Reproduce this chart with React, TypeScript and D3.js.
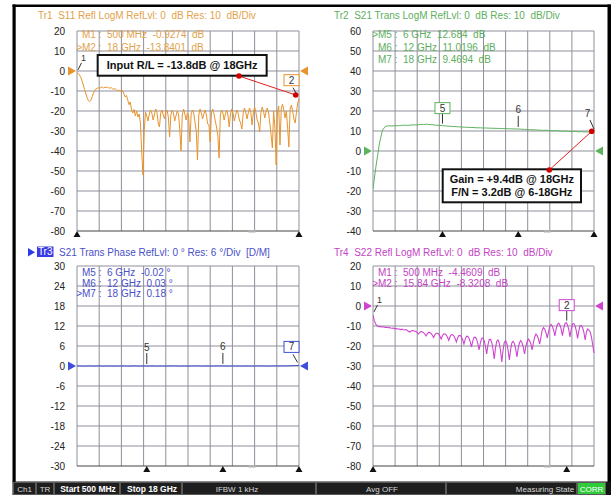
import React from 'react';
import * as d3 from 'd3';

const W = 614;
const H = 495;
const FONT = "'Liberation Sans', Arial, Helvetica, sans-serif";

// Sweep
const fStart = 0.5; // GHz
const fStop = 18; // GHz

// Tr1 S11 (dB), 0.5..18 GHz step 0.1 GHz
const s11 = [
  -0.9, -1.2, -2.0, -3.2, -5.0, -7.0, -9.2, -11.5, -13.4, -14.8,
  -15.3, -14.6, -12.8, -11.0, -9.8, -9.0, -8.6, -8.4, -8.6, -8.2,
  -8.0, -8.5, -8.1, -8.3, -8.0, -8.4, -8.6, -8.3, -8.9, -9.1,
  -8.8, -9.4, -9.8, -9.5, -10.2, -9.6, -9.9, -11.5, -13.0, -12.2,
  -14.5, -16.8, -15.5, -19.5, -21.0, -19.2, -22.5, -20.0, -23.0, -21.5,
  -26.0, -40.0, -52.0, -30.0, -20.5, -22.5, -25.0, -21.5, -19.5, -21.0,
  -24.5, -22.0, -19.0, -20.5, -26.0, -28.0, -21.0, -19.5, -22.0, -24.0,
  -20.5, -19.5, -23.0, -33.0, -22.0, -19.5, -21.0, -25.0, -22.5, -20.0,
  -21.5, -29.0, -40.0, -22.0, -19.0, -21.5, -24.5, -21.0, -22.5, -35.5,
  -21.5, -19.5, -21.0, -25.5, -30.0, -44.5, -22.0, -19.0, -21.0, -24.0,
  -21.5, -19.5, -22.0, -26.5, -27.0, -35.5, -21.0, -19.0, -21.5, -25.0,
  -28.0, -32.0, -43.5, -22.0, -19.5, -21.0, -24.5, -21.5, -19.5, -22.0,
  -28.0, -21.5, -19.0, -21.0, -25.0, -22.0, -19.5, -21.0, -24.5, -26.0,
  -29.0, -21.0, -18.5, -20.5, -24.0, -21.0, -18.5, -20.5, -27.0, -21.0,
  -18.0, -20.5, -24.5, -26.0, -30.5, -20.5, -18.0, -20.0, -23.5, -20.5,
  -18.5, -21.0, -26.0, -32.0, -38.5, -20.0, -28.0, -47.0, -21.0, -17.5,
  -37.0, -19.0, -16.5, -19.5, -23.5, -20.0, -28.0, -38.0, -19.0, -17.0,
  -20.0, -24.0, -26.0, -20.5, -16.0, -13.8,
];

// Tr2 S21 (dB), 0.5..18 GHz step 0.25 GHz
const s21 = [
  -19.0, -7.0, 3.5, 10.5, 12.4, 12.6, 12.5, 12.7, 12.6, 12.8,
  12.9, 12.8, 13.0, 13.1, 13.0, 13.3, 13.2, 13.4, 13.2, 13.1,
  12.9, 12.8, 12.7, 12.5, 12.4, 12.3, 12.2, 12.1, 12.0, 11.9,
  11.8, 11.8, 11.7, 11.6, 11.6, 11.5, 11.5, 11.4, 11.4, 11.3,
  11.3, 11.2, 11.2, 11.1, 11.1, 11.0, 11.0, 10.9, 10.8, 10.7,
  10.6, 10.6, 10.5, 10.4, 10.3, 10.4, 10.2, 10.1, 10.2, 10.0,
  9.9, 10.0, 9.8, 9.7, 9.9, 9.6, 9.7, 9.5, 9.6, 9.4,
  9.47,
];

// Tr3 S21 phase (deg), 0.5..18 GHz step 0.25 GHz
const phase = [
  0.0, 0.02, -0.05, 0.0, 0.03, -0.02, 0.0, 0.05, -0.03, 0.0,
  0.02, 0.0, -0.04, 0.01, 0.0, 0.03, -0.02, 0.0, 0.04, -0.01,
  0.0, 0.02, -0.02, 0.0, 0.03, -0.03, 0.01, 0.0, -0.02, 0.02,
  0.0, 0.04, -0.01, 0.0, 0.02, -0.03, 0.0, 0.01, 0.03, -0.02,
  0.0, 0.02, -0.01, 0.0, 0.03, 0.01, 0.03, 0.0, -0.02, 0.02,
  0.0, 0.01, -0.03, 0.0, 0.02, 0.0, -0.01, 0.03, 0.0, 0.02,
  -0.02, 0.0, 0.04, 0.01, 0.0, 0.05, 0.02, 0.08, 0.1, 0.14,
  0.18,
];

// Tr4 S22 (dB), 0.5..18 GHz step 0.1 GHz
const s22 = [
  -4.46, -7.2, -8.9, -9.8, -10.1, -10.3, -10.2, -10.5, -10.4, -10.6,
  -10.7, -10.6, -10.9, -10.8, -11.0, -11.1, -11.0, -11.3, -11.2, -11.5,
  -11.4, -11.6, -11.8, -11.6, -11.9, -12.0, -11.8, -12.1, -12.6, -13.0,
  -12.6, -12.3, -12.4,
  -12.6, -12.8, -13.3, -14.0, -13.2, -12.7,
  -13.0, -13.3, -14.0, -15.0, -13.9, -13.2,
  -13.3, -13.7, -14.6, -15.8, -14.4, -13.6,
  -13.6, -14.0, -15.1, -16.5, -14.9, -13.9,
  -14.0, -14.5, -15.6, -17.2, -15.4, -14.3,
  -14.4, -14.9, -16.2, -18.0, -16.0, -14.8,
  -14.8, -15.4, -16.9, -19.0, -16.7, -15.2,
  -15.2, -16.0, -17.9, -20.5, -17.6, -15.7,
  -15.6, -16.6, -18.8, -22.0, -18.5, -16.2,
  -16.0, -17.2, -20.0, -24.0, -19.6, -16.8,
  -16.6, -18.1, -21.5, -26.5, -21.0, -17.6,
  -17.0, -18.6, -22.5, -28.0, -22.0, -18.1,
  -17.4, -18.8, -22.2, -27.0, -21.7, -18.4,
  -17.6, -18.8, -21.5, -25.5, -21.2, -18.4,
  -17.3, -18.3, -20.6, -24.0, -20.3, -18.0,
  -16.5, -17.3, -19.0, -22.0, -18.5, -15.5,
  -14.0, -14.8, -16.5, -19.0, -15.5, -12.0,
  -10.8, -11.6, -13.4, -16.0, -12.8, -10.0,
  -9.2, -10.1, -12.0, -15.0, -11.6, -9.3,
  -8.6, -9.5, -11.6, -14.8, -11.3, -8.8,
  -8.3, -9.3, -11.7, -15.5, -11.5, -9.0,
  -8.8, -9.9, -12.4, -16.2, -12.3, -9.8,
  -9.8, -10.9, -13.2, -17.0, -13.0, -11.5,
  -12.0, -13.0, -15.5, -19.5, -23.5,
];

const fineFreqs = d3.range(s11.length).map((i) => fStart + i * 0.1);
const coarseFreqs = d3.range(s21.length).map((i) => fStart + i * 0.25);

// Tick labels
const ticksTr1 = [20, 10, 0, -10, -20, -30, -40, -50, -60, -70, -80];
const ticksTr2 = [60, 50, 40, 30, 20, 10, 0, -10, -20, -30, -40];
const ticksTr3 = [30, 24, 18, 12, 6, 0, -6, -12, -18, -24, -30];
const ticksTr4 = [20, 10, 0, -10, -20, -30, -40, -50, -60, -70, -80];

const titles = [
  'Tr1  S11 Refl LogM RefLvl: 0  dB Res: 10  dB/Div',
  'Tr2  S21 Trans LogM RefLvl: 0  dB Res: 10  dB/Div',
  'S21 Trans Phase RefLvl: 0 \u00b0 Res: 6 \u00b0/Div  [D/M]',
  'Tr4  S22 Refl LogM RefLvl: 0  dB Res: 10  dB/Div',
];

const readTr1 = [
  { active: false, text: 'M1 :  500 MHz  -0.9274  dB' },
  { active: true, text: 'M2 :  18 GHz  -13.8401  dB' },
];
const readTr2 = [
  { active: true, text: 'M5 :  6 GHz  12.684  dB' },
  { active: false, text: 'M6 :  12 GHz  11.0196  dB' },
  { active: false, text: 'M7 :  18 GHz  9.4694  dB' },
];
const readTr3 = [
  { active: false, text: 'M5 :  6 GHz  -0.02 \u00b0' },
  { active: false, text: 'M6 :  12 GHz  0.03 \u00b0' },
  { active: true, text: 'M7 :  18 GHz  0.18 \u00b0' },
];
const readTr4 = [
  { active: false, text: 'M1 :  500 MHz  -4.4609  dB' },
  { active: true, text: 'M2 :  15.84 GHz  -8.3208  dB' },
];

// markers: label, freq, value, label style
const mkTr1 = [
  { n: '1', f: 0.5, v: -0.93, kind: 'slashRight' },
  { n: '2', f: 18, v: -13.84, kind: 'boxLeft' },
];
const mkTr2 = [
  { n: '5', f: 6, v: 12.684, kind: 'boxUp' },
  { n: '6', f: 12, v: 11.02, kind: 'up' },
  { n: '7', f: 18, v: 9.47, kind: 'slashLeft' },
];
const mkTr3 = [
  { n: '5', f: 6, v: -0.02, kind: 'up' },
  { n: '6', f: 12, v: 0.03, kind: 'up' },
  { n: '7', f: 18, v: 0.18, kind: 'boxLeft' },
];
const mkTr4 = [
  { n: '1', f: 0.5, v: -4.46, kind: 'slashRight' },
  { n: '2', f: 15.84, v: -8.32, kind: 'boxUp' },
];

// Annotations (data units of their panel)
const annTr1 = {
  lines: ['Input R/L = -13.8dB @ 18GHz'],
  box: [2.13, 15.45, 8, -2.35],
  from: [13.27, -2.5],
  to: [17.74, -12],
};
const annTr2 = {
  lines: ['Gain = +9.4dB @ 18GHz', 'F/N = 3.2dB @ 6-18GHz'],
  box: [6.02, 16.97, -9.15, -25.65],
  from: [14.46, -9.5],
  to: [17.82, 9.85],
};

const statusLabels = ['Ch1', 'TR', 'Start 500 MHz', 'Stop 18 GHz', 'IFBW 1 kHz', 'Avg OFF', 'Measuring State', 'CORR'];

type Mk = { n: string; f: number; v: number; kind: string };

const panels = [
  {
    id: 'Tr1', left: 77, right: 299, top: 31, bottom: 231, ticks: ticksTr1, title: titles[0],
    data: s11, freqs: fineFreqs, trace: '#E8942C', text: '#DFA24C', reads: readTr1, markers: mkTr1 as Mk[],
    stim: [0.5, 18], ann: annTr1, tr3: false, lw: 1,
  },
  {
    id: 'Tr2', left: 373, right: 594, top: 31, bottom: 231, ticks: ticksTr2, title: titles[1],
    data: s21, freqs: coarseFreqs, trace: '#5DB35D', text: '#5EAE5E', reads: readTr2, markers: mkTr2 as Mk[],
    stim: [6, 12, 18], ann: annTr2, tr3: false, lw: 1,
  },
  {
    id: 'Tr3', left: 77, right: 299, top: 266, bottom: 466, ticks: ticksTr3, title: titles[2],
    data: phase, freqs: coarseFreqs, trace: '#3F4FD8', text: '#4A50C8', reads: readTr3, markers: mkTr3 as Mk[],
    stim: [6, 12, 18], ann: null, tr3: true, lw: 1,
  },
  {
    id: 'Tr4', left: 373, right: 594, top: 266, bottom: 466, ticks: ticksTr4, title: titles[3],
    data: s22, freqs: fineFreqs, trace: '#D045D0', text: '#C444C4', reads: readTr4, markers: mkTr4 as Mk[],
    stim: [0.5, 15.84], ann: null, tr3: false, lw: 1.1,
  },
];

function Panel({ p }: { p: any }) {
  const x = d3.scaleLinear().domain([fStart, fStop]).range([p.left, p.right]);
  const tmin = d3.min(p.ticks as number[]) as number;
  const tmax = d3.max(p.ticks as number[]) as number;
  const y = d3.scaleLinear().domain([tmin, tmax]).range([p.bottom, p.top]);
  const line = d3
    .line<number>()
    .x((_d, i) => x(p.freqs[i]))
    .y((d) => y(d));
  const vGrid = d3.range(11).map((k) => fStart + (k * (fStop - fStart)) / 10);
  const y0 = y(0);
  const topPanel = p.top < 100;
  const titleY = topPanel ? 18.5 : 255.5;
  const readY0 = topPanel ? 38.3 : 276;
  const readDy = topPanel ? 12.2 : 10.7;
  const clipId = 'clip' + p.id;

  const markerEls = p.markers.map((m: Mk, i: number) => {
    const px = x(m.f);
    const py = y(m.v);
    const col = '#333';
    if (m.kind === 'up') {
      return (
        <g key={i}>
          <line x1={px} x2={px} y1={py - 2} y2={py - 13} stroke={col} strokeWidth={1} />
          <text x={px} y={py - 15.5} fontSize={10} textAnchor="middle" fill={col}>{m.n}</text>
        </g>
      );
    }
    if (m.kind === 'boxUp') {
      return (
        <g key={i}>
          <line x1={px} x2={px} y1={py - 2} y2={py - 12} stroke={col} strokeWidth={1} />
          <rect x={px - 7.5} y={py - 23} width={15} height={11} fill="#fff" stroke={p.trace} strokeWidth={1} />
          <text x={px} y={py - 14} fontSize={10} textAnchor="middle" fill={col}>{m.n}</text>
        </g>
      );
    }
    if (m.kind === 'boxLeft') {
      return (
        <g key={i}>
          <line x1={px - 6} x2={px - 1.5} y1={py - 11} y2={py - 3} stroke={col} strokeWidth={1} />
          <rect x={px - 15} y={py - 24} width={15} height={11} fill="#fff" stroke={p.trace} strokeWidth={1} />
          <text x={px - 7.5} y={py - 15} fontSize={10} textAnchor="middle" fill={col}>{m.n}</text>
        </g>
      );
    }
    if (m.kind === 'slashLeft') {
      return (
        <g key={i}>
          <line x1={px - 4} x2={px} y1={py - 12} y2={py - 3} stroke={col} strokeWidth={1} />
          <text x={px - 6.5} y={py - 15} fontSize={10} textAnchor="middle" fill={col}>{m.n}</text>
        </g>
      );
    }
    // slashRight
    return (
      <g key={i}>
        <line x1={px + 4.5} x2={px + 1} y1={py - 10} y2={py - 3} stroke={col} strokeWidth={1} />
        <text x={px + 6.5} y={py - 11.5} fontSize={9} textAnchor="middle" fill={col}>{m.n}</text>
      </g>
    );
  });

  let annEl = null;
  if (p.ann) {
    const a = p.ann;
    const bx0 = x(a.box[0]);
    const bx1 = x(a.box[1]);
    const by0 = y(a.box[2]);
    const by1 = y(a.box[3]);
    const cx = (bx0 + bx1) / 2;
    const n = a.lines.length;
    const lh = 12.7;
    const firstBase = (by0 + by1) / 2 - ((n - 1) * lh) / 2 + 4;
    annEl = (
      <g>
        <line x1={x(a.from[0])} y1={y(a.from[1])} x2={x(a.to[0])} y2={y(a.to[1])} stroke="#E02020" strokeWidth={1} />
        <rect x={bx0} y={by0} width={bx1 - bx0} height={by1 - by0} fill="#fff" stroke="#111" strokeWidth={2} />
        {a.lines.map((t: string, i: number) => (
          <text key={i} x={cx} y={firstBase + i * lh} fontSize={11} fontWeight="bold" textAnchor="middle" fill="#111">
            {t}
          </text>
        ))}
        <circle cx={x(a.from[0])} cy={y(a.from[1])} r={2.8} fill="#D00000" />
        <circle cx={x(a.to[0])} cy={y(a.to[1])} r={2.8} fill="#D00000" />
      </g>
    );
  }

  return (
    <g>
      <defs>
        <clipPath id={clipId}>
          <rect x={p.left} y={p.top - 1} width={p.right - p.left + 1} height={p.bottom - p.top + 2} />
        </clipPath>
      </defs>
      {/* title */}
      {p.tr3 ? (
        <g>
          <path d="M28,248 L28,256.5 L35,252.2 Z" fill="#2B3BE6" />
          <rect x={37} y={246.5} width={16.5} height={10.5} fill="#3A3AE6" />
          <text x={45.2} y={255.3} fontSize={10} textAnchor="middle" fill="#fff">Tr3</text>
          <text x={59} y={titleY} fontSize={10} fill={p.text} style={{ whiteSpace: 'pre' }}>{p.title}</text>
        </g>
      ) : (
        <text x={p.left - 39} y={titleY} fontSize={10} fill={p.text} style={{ whiteSpace: 'pre' }}>{p.title}</text>
      )}
      {/* grid */}
      {vGrid.map((f, i) => (
        <line key={'v' + i} x1={x(f)} x2={x(f)} y1={p.top} y2={p.bottom} stroke="#8F8F9C" strokeWidth={1} />
      ))}
      {(p.ticks as number[]).map((t, i) => (
        <line key={'h' + i} x1={p.left} x2={p.right} y1={y(t)} y2={y(t)} stroke={t === tmin ? '#444' : '#8F8F9C'} strokeWidth={1} />
      ))}
      {/* tick labels */}
      {(p.ticks as number[]).map((t, i) => (
        <text key={'t' + i} x={p.left - 12} y={y(t) + 3.5} fontSize={10} textAnchor="end" fill="#222">{t}</text>
      ))}
      {/* readouts */}
      {p.reads.map((r: any, i: number) => (
        <text
          key={'r' + i}
          x={r.active ? p.left - 0.8 : p.left + 5}
          y={readY0 + i * readDy}
          fontSize={10}
          fill={p.text}
          style={{ whiteSpace: 'pre' }}
        >
          {(r.active ? '>' : '') + r.text}
        </text>
      ))}
      {/* trace */}
      <path d={line(p.data) || ''} fill="none" stroke={p.trace} strokeWidth={p.lw} clipPath={`url(#${clipId})`} />
      {/* reference triangles */}
      <path d={`M${p.left - 9},${y0 - 4.5} L${p.left - 9},${y0 + 4.5} L${p.left - 1},${y0} Z`} fill={p.trace} />
      <path d={`M${p.right + 9},${y0 - 4.5} L${p.right + 9},${y0 + 4.5} L${p.right + 1},${y0} Z`} fill={p.trace} />
      {/* stimulus triangles */}
      {(p.stim as number[]).map((f, i) => (
        <path key={'s' + i} d={`M${x(f)},${p.bottom} L${x(f) - 3.5},${p.bottom + 6} L${x(f) + 3.5},${p.bottom + 6} Z`} fill="#111" />
      ))}
      <rect x={x(14.3) - 3.5} y={p.bottom - 1} width={7} height={2.5} fill="#B0B0B0" />
      {markerEls}
      {annEl}
    </g>
  );
}

// status bar layout (cell edges, text centers)
const cellEdges = [13, 36, 54, 120, 182, 316, 446, 577, 606];
const textCenters = [24.5, 45, 88, 152, 237, 382, 545, 591.5];

export default function App() {
  return (
    <svg
      width={W}
      height={H}
      style={{ position: 'absolute', left: 0, top: 0, display: 'block' }}
      fontFamily={FONT}
    >
      <rect x={0} y={0} width={W} height={H} fill="#fff" />
      {/* frame */}
      <rect x={12.5} y={4.5} width={3.2} height={478} fill="#000" />
      <rect x={12.5} y={4.5} width={598} height={2.5} fill="#000" />
      <rect x={607.5} y={4.5} width={3.5} height={478} fill="#000" />
      {panels.map((p) => (
        <Panel key={p.id} p={p} />
      ))}
      {/* status bar */}
      <rect x={12.5} y={481.5} width={598.5} height={13.5} fill="#141414" />
      {statusLabels.map((s, i) => {
        const x0 = cellEdges[i];
        const x1 = cellEdges[i + 1];
        const corr = s === 'CORR';
        const bold = i === 2 || i === 3;
        return (
          <g key={s}>
            <rect
              x={x0 + 0.5}
              y={482.5}
              width={x1 - x0 - 1}
              height={12}
              fill={corr ? '#2FCB3A' : '#1E1E1E'}
              stroke="#5A5A5A"
              strokeWidth={1}
            />
            <text
              x={textCenters[i]}
              y={491.5}
              fontSize={bold ? 8.5 : 8}
              fontWeight={bold ? 'bold' : 'normal'}
              textAnchor="middle"
              fill={corr || bold ? '#FFFFFF' : '#D8D8D8'}
            >
              {s}
            </text>
          </g>
        );
      })}
    </svg>
  );
}
